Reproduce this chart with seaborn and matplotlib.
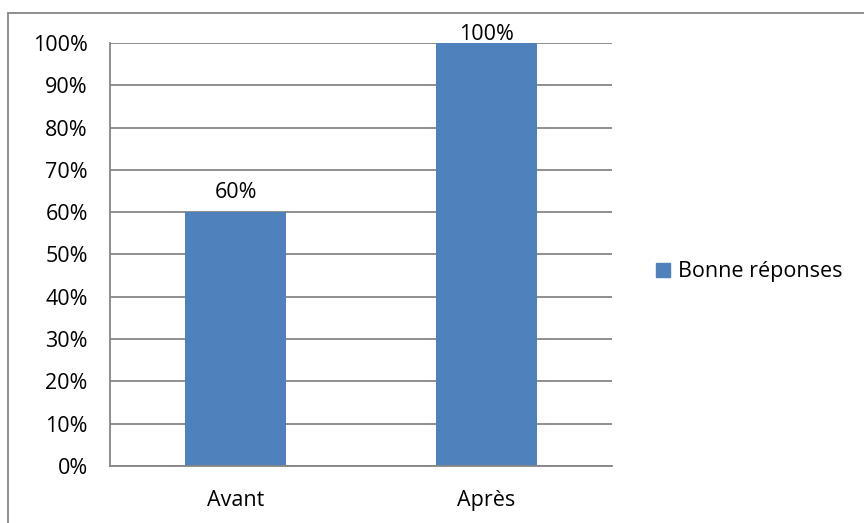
import matplotlib
matplotlib.use("Agg")
import matplotlib.pyplot as plt
import seaborn as sns
import pandas as pd
from matplotlib.lines import Line2D
from matplotlib.patches import Patch

categories = ["Avant", "Après"]
values = [0.60, 1.00]
value_labels = ["60%", "100%"]
yticks = [0.0, 0.1, 0.2, 0.3, 0.4, 0.5, 0.6, 0.7, 0.8, 0.9, 1.0]
ytick_labels = ["0%", "10%", "20%", "30%", "40%", "50%", "60%", "70%", "80%", "90%", "100%"]
series_name = "Bonne réponses"

sns.set_style("white")
plt.rcParams["font.family"] = ["Open Sans", "DejaVu Sans"]

FS = 15.5
W, H = 864, 523
fig = plt.figure(figsize=(W / 100, H / 100), dpi=100)
ax = fig.add_axes([110 / W, (H - 466) / H, 502 / W, 423 / H])

df = pd.DataFrame({"cat": categories, "val": values})
color = "#4F81BD"
sns.barplot(data=df, x="cat", y="val", color=color, width=0.4, ax=ax,
            saturation=1, zorder=3, linewidth=0)

ax.set_xlim(-0.5, 1.5)
ax.set_ylim(0, 1)
ax.set_yticks(yticks)
ax.set_yticklabels(ytick_labels, fontsize=FS, color="black")
ax.set_xlabel("")
ax.set_ylabel("")
ax.tick_params(axis="x", which="major", length=0, pad=17, labelsize=FS, labelcolor="black")
ax.set_xticks([-0.5, 0.5, 1.5], minor=True)
ax.tick_params(axis="x", which="minor", length=6, width=1.3, color="#868686", direction="out")
ax.tick_params(axis="y", length=8, width=1.3, color="#868686", direction="out", pad=8)

grid_color = "#868686"
ax.yaxis.grid(True, color=grid_color, linewidth=1.3, zorder=0)
ax.set_axisbelow(True)
for s in ["top", "right"]:
    ax.spines[s].set_visible(False)
for s in ["left", "bottom"]:
    ax.spines[s].set_color(grid_color)
    ax.spines[s].set_linewidth(1.3)
    ax.spines[s].set_zorder(4)

for p, lab in zip(ax.patches, value_labels):
    y = min(p.get_height() + 0.022, 1.0 - 0.005)
    ax.text(p.get_x() + p.get_width() / 2, y, lab,
            ha="center", va="bottom", fontsize=FS, color="black", zorder=5)

handle = Patch(facecolor=color, edgecolor=color)
leg = fig.legend([handle], [series_name], loc="center left",
                 bbox_to_anchor=(637 / W, 1 - 272 / H), frameon=False,
                 fontsize=FS, handlelength=0.65, handleheight=0.65,
                 handletextpad=0.35, labelcolor="black")

# outer chart border (top and left edges visible)
fig.add_artist(Line2D([8 / W, 1.0], [1 - 13 / H, 1 - 13 / H], color=grid_color,
                      linewidth=1.3, transform=fig.transFigure))
fig.add_artist(Line2D([8 / W, 8 / W], [0, 1 - 13 / H], color=grid_color,
                      linewidth=1.3, transform=fig.transFigure))

fig.savefig("out.png", dpi=100)
